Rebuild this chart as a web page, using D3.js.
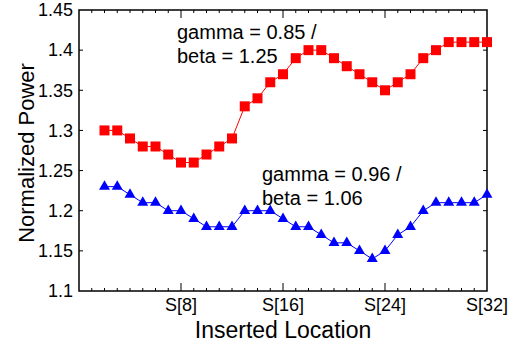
<!DOCTYPE html>
<html>
<head>
<meta charset="utf-8">
<script src="https://cdn.jsdelivr.net/npm/d3@7"></script>
<style>
  body { margin: 0; background: #fff; }
  text { font-family: "Liberation Sans", Arial, Helvetica, sans-serif; fill: #000; }
</style>
</head>
<body>
<div class="container"></div>
<script>
const WIDTH = 516;
const HEIGHT = 347;
const LEFT = 79, TOP = 10, RIGHT = 487, BOTTOM = 291;

// data
var locations = d3.range(2, 33);
var redValues = [1.30, 1.30, 1.29, 1.28, 1.28, 1.27, 1.26, 1.26, 1.27, 1.28, 1.29,
                 1.33, 1.34, 1.36, 1.37, 1.39, 1.40, 1.40, 1.39, 1.38, 1.37, 1.36,
                 1.35, 1.36, 1.37, 1.39, 1.40, 1.41, 1.41, 1.41, 1.41];
var blueValues = [1.23, 1.23, 1.22, 1.21, 1.21, 1.20, 1.20, 1.19, 1.18, 1.18, 1.18,
                  1.20, 1.20, 1.20, 1.19, 1.18, 1.18, 1.17, 1.16, 1.16, 1.15, 1.14,
                  1.15, 1.17, 1.18, 1.20, 1.21, 1.21, 1.21, 1.21, 1.22];
var yTicks = [1.1, 1.15, 1.2, 1.25, 1.3, 1.35, 1.4, 1.45];
var xTicks = [8, 16, 24, 32];
var xTickLabels = ["S[8]", "S[16]", "S[24]", "S[32]"];
var redNote = ["gamma = 0.85 /", "beta = 1.25"];
var blueNote = ["gamma = 0.96 /", "beta = 1.06"];

var svg = d3.select(".container").append("svg")
    .attr("width", WIDTH)
    .attr("height", HEIGHT);

var x = d3.scaleLinear().domain([0, 32]).range([LEFT, RIGHT]);
var y = d3.scaleLinear().domain([1.1, 1.45]).range([BOTTOM, TOP]);

// frame
svg.append("rect")
    .attr("x", LEFT).attr("y", TOP)
    .attr("width", RIGHT - LEFT).attr("height", BOTTOM - TOP)
    .attr("fill", "none").attr("stroke", "#000").attr("stroke-width", 1.5);

// minor + major x ticks, bottom and top
var allX = d3.range(1, 32);
svg.selectAll(".xtick-b").data(allX).enter().append("line")
    .attr("x1", d => x(d)).attr("x2", d => x(d))
    .attr("y1", BOTTOM).attr("y2", d => BOTTOM - (d % 8 == 0 ? 8 : 3))
    .attr("stroke", "#000").attr("stroke-width", 1);
svg.selectAll(".xtick-t").data(allX).enter().append("line")
    .attr("x1", d => x(d)).attr("x2", d => x(d))
    .attr("y1", TOP).attr("y2", d => TOP + (d % 8 == 0 ? 8 : 3))
    .attr("stroke", "#000").attr("stroke-width", 1);

// y ticks left and right
var innerY = yTicks.slice(1, -1);
svg.selectAll(".ytick-l").data(innerY).enter().append("line")
    .attr("x1", LEFT).attr("x2", LEFT + 4)
    .attr("y1", d => y(d)).attr("y2", d => y(d))
    .attr("stroke", "#000").attr("stroke-width", 1);
svg.selectAll(".ytick-r").data(innerY).enter().append("line")
    .attr("x1", RIGHT).attr("x2", RIGHT - 4)
    .attr("y1", d => y(d)).attr("y2", d => y(d))
    .attr("stroke", "#000").attr("stroke-width", 1);

// tick labels
svg.selectAll(".ylab").data(yTicks).enter().append("text")
    .attr("x", LEFT - 6).attr("y", d => y(d))
    .attr("dy", "0.35em")
    .attr("text-anchor", "end")
    .style("font-size", "18px")
    .text(d => d3.format("")(+d.toFixed(2)));

svg.selectAll(".xlab").data(xTicks).enter().append("text")
    .attr("x", d => x(d)).attr("y", 311)
    .attr("text-anchor", "middle")
    .style("font-size", "18px")
    .text((d, i) => xTickLabels[i]);

// axis titles
svg.append("text")
    .attr("x", (LEFT + RIGHT) / 2).attr("y", 338)
    .attr("text-anchor", "middle")
    .style("font-size", "23px")
    .text("Inserted Location");

svg.append("text")
    .attr("transform", "translate(34,153) rotate(-90)")
    .attr("text-anchor", "middle")
    .style("font-size", "22px")
    .text("Normalized Power");

// series
var drawSeries = function(values, color, symbol, size) {
    var line = d3.line()
        .x((d, i) => x(locations[i]))
        .y(d => y(d));
    svg.append("path")
        .datum(values)
        .attr("d", line)
        .attr("fill", "none")
        .attr("stroke", color)
        .attr("stroke-width", 1);
    svg.selectAll(null).data(values).enter().append("path")
        .attr("transform", (d, i) => "translate(" + x(locations[i]) + "," + y(d) + ")")
        .attr("d", d3.symbol().type(symbol).size(size))
        .attr("fill", color);
};

drawSeries(redValues, "#ff0000", d3.symbolSquare, 100);
drawSeries(blueValues, "#0000ff", d3.symbolTriangle, 52);

// annotations
var note = function(lines, x0, y0) {
    lines.forEach(function(t, i) {
        svg.append("text")
            .attr("x", x0).attr("y", y0 + i * 24)
            .style("font-size", "20px")
            .text(t);
    });
};
note(redNote, 177, 39);
note(blueNote, 262, 181);
</script>
</body>
</html>
